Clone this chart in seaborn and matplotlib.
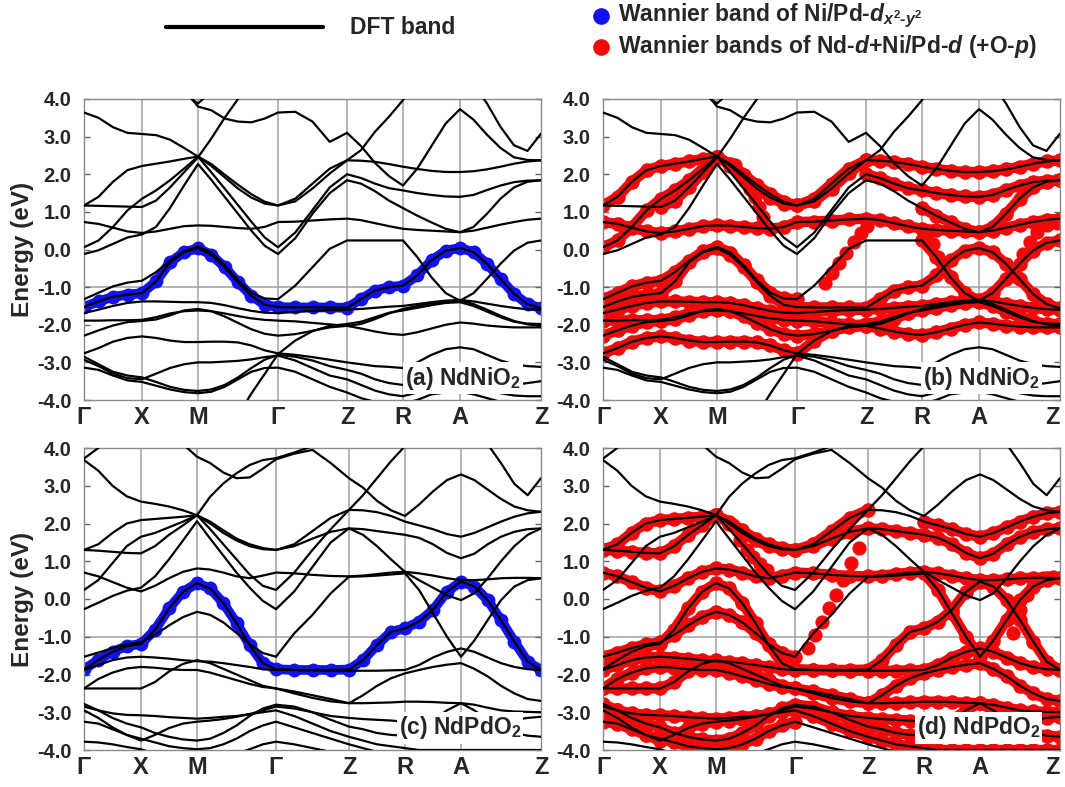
import numpy as np
import pandas as pd
import matplotlib
matplotlib.use("Agg")
import matplotlib.pyplot as plt
from matplotlib.lines import Line2D
import seaborn as sns

sns.set_theme(style="white")
plt.rcParams["font.family"] = ["Liberation Sans", "DejaVu Sans"]
plt.rcParams["font.weight"] = "bold"
plt.rcParams["mathtext.fontset"] = "custom"
plt.rcParams["mathtext.rm"] = "Liberation Sans:bold"
plt.rcParams["mathtext.bf"] = "Liberation Sans:bold"
plt.rcParams["mathtext.it"] = "Liberation Sans:italic:bold"

# ---------------------------------------------------------------- k-path
K_LABELS = ["Γ", "X", "M", "Γ", "Z", "R", "A", "Z"]
SEG_PTS = [4, 4, 6, 4, 4, 4, 6]          # sampled intervals per path segment
NI_TICKS = [0, 58, 114, 194, 263, 319, 376, 457]
PD_TICKS = [0, 57, 113, 192, 265, 321, 377, 457]
Y_TICKS = [-4.0, -3.0, -2.0, -1.0, 0.0, 1.0, 2.0, 3.0, 4.0]
OFF = 4.6   # energies outside the plotted window

# ---------------------------------------------------------------- NdNiO2 bands (eV)
# order per row: G-X(5) | X-M(4) | M-G(6) | G-Z(4) | Z-R(4) | R-A(4) | A-Z(6)
ni_b01 = [3.64, 3.50, 3.25, 3.10, 3.07, 3.04, 2.92, 2.70, 2.47,
          2.22, 1.92, 1.62, 1.38, 1.22, 1.17, 1.35, 1.75, 2.15, 2.37,
          2.36, 2.33, 2.27, 2.20, 2.14, 2.09, 2.06, 2.06,
          2.08, 2.13, 2.20, 2.28, 2.34, 2.37]
ni_b02 = [1.17, 1.40, 1.80, 2.11, 2.22, 2.28, 2.34, 2.41, 2.47,
          2.27, 1.99, 1.72, 1.47, 1.27, 1.17, 1.28, 1.62, 2.02, 2.37,
          2.64, 3.13, 3.53, 3.97, OFF, OFF, OFF, OFF,
          OFF, OFF, OFF, OFF, OFF, OFF]
ni_b03 = [1.17, 1.16, 1.15, 1.14, 1.13, 1.30, 1.65, 2.05, 2.45,
          2.95, 3.50, 4.00, 4.50, OFF, OFF, OFF, OFF, OFF, OFF,
          OFF, OFF, OFF, OFF, OFF, OFF, OFF, OFF,
          OFF, OFF, OFF, OFF, OFF, OFF]
ni_b04 = [0.73, 0.68, 0.58, 0.48, 0.44, 0.48, 0.55, 0.62, 0.64,
          0.63, 0.60, 0.57, 0.55, 0.60, 0.73, 0.74, 0.77, 0.80, 0.82,
          0.78, 0.70, 0.62, 0.55, 0.52, 0.50, 0.48, 0.46,
          0.50, 0.58, 0.66, 0.73, 0.79, 0.82]
ni_b05 = [0.06, 0.24, 0.60, 1.04, 1.35, 1.57, 1.84, 2.15, 2.47,
          2.05, 1.62, 1.18, 0.74, 0.32, 0.06, 0.45, 1.05, 1.65, 2.00,
          1.90, 1.75, 1.63, 1.57, 1.50, 1.45, 1.41, 1.40,
          1.45, 1.58, 1.70, 1.79, 1.83, 1.84]
ni_b06 = [-0.12, -0.02, 0.15, 0.32, 0.40, 0.60, 1.10, 1.70, 2.27,
          1.85, 1.40, 0.95, 0.50, 0.10, -0.12, 0.30, 0.95, 1.50, 1.84,
          1.75, 1.55, 1.30, 1.10, 0.90, 0.72, 0.55, 0.46,
          0.60, 0.95, 1.35, 1.65, 1.80, 1.84]
ni_b07 = [-1.32, -1.15, -0.98, -0.88, -0.83, -0.60, -0.30, -0.05, 0.07,
          -0.08, -0.42, -0.82, -1.15, -1.30, -1.32, -0.96, -0.47, 0.02, 0.24,
          0.24, 0.24, 0.24, 0.24, -0.20, -0.74, -1.16, -1.36,
          -1.16, -0.78, -0.38, -0.03, 0.18, 0.24]
ni_b08 = [-1.53, -1.38, -1.26, -1.20, -1.16, -0.85, -0.34, -0.07, 0.03,
          -0.14, -0.47, -0.87, -1.23, -1.47, -1.53, -1.54, -1.54, -1.54, -1.55,
          -1.32, -1.09, -1.00, -0.96, -0.69, -0.29, -0.03, 0.04,
          -0.07, -0.38, -0.78, -1.18, -1.45, -1.56]
ni_b09 = [-1.69, -1.60, -1.50, -1.42, -1.38, -1.38, -1.39, -1.40, -1.40,
          -1.42, -1.48, -1.56, -1.63, -1.68, -1.69, -1.66, -1.63, -1.61, -1.60,
          -1.58, -1.55, -1.52, -1.50, -1.45, -1.40, -1.36, -1.34,
          -1.38, -1.44, -1.50, -1.55, -1.59, -1.60]
ni_b10 = [-1.89, -1.89, -1.88, -1.88, -1.87, -1.80, -1.70, -1.64, -1.62,
          -1.64, -1.70, -1.77, -1.83, -1.87, -1.89, -1.91, -1.95, -1.99, -2.03,
          -1.98, -1.85, -1.70, -1.58, -1.50, -1.43, -1.38, -1.36,
          -1.45, -1.60, -1.76, -1.90, -1.99, -2.03]
ni_b11 = [-2.29, -2.15, -2.02, -1.93, -1.90, -1.86, -1.75, -1.62, -1.58,
          -1.64, -1.78, -1.95, -2.12, -2.24, -2.29, -2.25, -2.16, -2.07, -2.03,
          -2.10, -2.18, -2.24, -2.27, -2.20, -2.10, -2.00, -1.94,
          -1.97, -2.02, -2.05, -2.07, -2.07, -2.07]
ni_b12 = [-2.76, -2.62, -2.45, -2.35, -2.31, -2.35, -2.42, -2.46, -2.46,
          -2.45, -2.45, -2.47, -2.55, -2.68, -2.76, -2.80, -2.86, -2.93, -3.00,
          -3.05, -3.10, -3.12, -3.15, -3.00, -2.80, -2.65, -2.60,
          -2.65, -2.80, -2.95, -3.05, -3.10, -3.12]
ni_b13 = [-OFF, -OFF, -OFF, -OFF, -OFF, -OFF, -OFF, -OFF, -OFF,
          -OFF, -OFF, -4.40, -3.83, -3.31, -2.78, -2.42, -2.17, -2.03, -1.98,
          -1.92, -1.80, -1.68, -1.62, -1.55, -1.48, -1.42, -1.40,
          -1.50, -1.65, -1.80, -1.92, -1.97, -1.98]
ni_b14 = [-2.85, -3.05, -3.25, -3.35, -3.40, -3.52, -3.65, -3.73, -3.76,
          -3.72, -3.60, -3.40, -3.15, -2.93, -2.80, -2.85, -2.95, -3.10, -3.20,
          -3.30, -3.45, -3.55, -3.60, -3.55, -3.45, -3.35, -3.30,
          -3.35, -3.45, -3.55, -3.60, -3.55, -3.50]
ni_b15 = [-2.93, -3.10, -3.30, -3.42, -3.45, -3.30, -3.15, -3.05, -3.00,
          -3.00, -2.98, -2.96, -2.92, -2.86, -2.82, -2.95, -3.15, -3.35, -3.45,
          -3.60, -3.75, -3.85, -3.90, -3.80, -3.65, -3.55, -3.50,
          -3.60, -3.72, -3.82, -3.88, -3.90, -3.90]
ni_b16 = [-3.14, -3.20, -3.35, -3.48, -3.52, -3.62, -3.72, -3.79, -3.82,
          -3.78, -3.65, -3.45, -3.25, -3.15, -3.14, -3.25, -3.45, -3.65, -3.80,
          -3.95, -4.05, -4.10, -4.10, -4.00, -3.85, -3.80, -3.78,
          -3.85, -3.95, -4.05, -4.10, -4.10, -4.10]
ni_t1 = [OFF, OFF, OFF, OFF, OFF, OFF, OFF, 4.25, 3.80,
         3.70, 3.48, 3.40, 3.38, 3.48, 3.64, 3.66, 3.40, 2.86, 3.10,
         2.75, 2.30, 1.95, 1.70, 2.15, 2.75, 3.35, 3.73,
         3.45, 3.05, 2.70, 2.45, 2.38, 2.37]
ni_t2 = [OFF, OFF, OFF, OFF, OFF, OFF, OFF, 4.15, 3.88,
         4.20, OFF, OFF, OFF, OFF, OFF, OFF, OFF, OFF, OFF,
         OFF, OFF, OFF, OFF, OFF, OFF, OFF, OFF,
         4.40, 3.88, 3.26, 2.77, 2.62, 3.08]

# Wannier-fitted segments (1 = fitted) per band, per path segment
ni_wannier = {"ni_b01": "0011111", "ni_b02": "1111000", "ni_b03": "0100000",
              "ni_b04": "1111111", "ni_b05": "1100111", "ni_b06": "0000011",
              "ni_b07": "1110011", "ni_b08": "1111111", "ni_b09": "1111111",
              "ni_b10": "1111111", "ni_b11": "1111111", "ni_b12": "1110000",
              "ni_b13": "0001111"}
ni_x2y2 = "ni_b08"
# Wannier points that leave the DFT bands (k, E)
ni_free_k1 = [132, 137, 142, 147, 152, 156, 160]
ni_free_e1 = [2.25, 2.02, 1.82, 1.62, 1.40, 1.13, 0.86]
ni_free_k2 = [222, 229, 236, 243, 251, 258, 264]
ni_free_e2 = [-0.88, -0.62, -0.37, -0.10, 0.20, 0.45, 0.62]
ni_free_k3 = [414, 420, 427, 434, 444, 454]
ni_free_e3 = [-0.74, -0.12, 0.20, 0.46, 0.64, 0.70]
ni_free_k4 = [324, 330, 335, 340]
ni_free_e4 = [0.42, 0.15, -0.20, -0.56]

# ---------------------------------------------------------------- NdPdO2 bands (eV)
pd_b01 = [3.68, 3.40, 3.00, 2.72, 2.58, 2.52, 2.45, 2.35, 2.22,
          2.00, 1.75, 1.55, 1.40, 1.32, 1.30, 1.40, 1.60, 1.78, 1.87,
          1.85, 1.80, 1.75, 1.70, 1.62, 1.45, 1.22, 1.08,
          1.20, 1.45, 1.65, 1.78, 1.85, 1.87]
pd_b02 = [1.30, 1.45, 1.75, 2.00, 2.09, 2.12, 2.15, 2.18, 2.22,
          2.05, 1.82, 1.60, 1.45, 1.35, 1.30, 1.45, 1.80, 2.15, 2.36,
          2.75, 3.20, 3.65, 4.05, OFF, OFF, OFF, OFF,
          OFF, OFF, OFF, OFF, OFF, OFF]
pd_b03 = [1.30, 1.28, 1.25, 1.22, 1.21, 1.40, 1.70, 1.95, 2.22,
          2.71, 3.06, 3.33, 3.55, 3.68, 3.73, 3.88, 4.05, 4.30, OFF,
          OFF, OFF, OFF, OFF, OFF, OFF, OFF, OFF,
          OFF, OFF, OFF, OFF, OFF, OFF]
pd_b04 = [0.70, 0.60, 0.45, 0.30, 0.20, 0.35, 0.55, 0.72, 0.81,
          0.78, 0.70, 0.60, 0.55, 0.62, 0.70, 0.68, 0.64, 0.61, 0.60,
          0.62, 0.66, 0.70, 0.72, 0.68, 0.62, 0.55, 0.50,
          0.50, 0.52, 0.55, 0.56, 0.56, 0.55]
pd_b05 = [0.24, 0.50, 0.95, 1.40, 1.65, 1.75, 1.90, 2.05, 2.22,
          1.85, 1.45, 1.05, 0.65, 0.35, 0.24, 0.70, 1.30, 1.85, 2.36,
          2.35, 2.30, 2.20, 2.05, 1.95, 1.85, 1.72, 1.65,
          1.75, 1.90, 2.05, 2.18, 2.27, 2.31]
pd_b06 = [-0.27, -0.10, 0.08, 0.22, 0.30, 0.60, 1.05, 1.55, 2.06,
          1.60, 1.15, 0.70, 0.30, -0.05, -0.27, 0.20, 0.85, 1.50, 1.87,
          1.70, 1.40, 1.05, 0.72, 0.50, 0.30, 0.10, -0.03,
          0.15, 0.55, 1.00, 1.40, 1.70, 1.87]
pd_b07 = [-1.53, -1.42, -1.30, -1.20, -1.15, -0.95, -0.70, -0.48, -0.34,
          -0.42, -0.62, -0.90, -1.20, -1.43, -1.53, -0.91, -0.42, 0.15, 0.59,
          0.60, 0.62, 0.65, 0.68, 0.24, -0.38, -1.00, -1.53,
          -1.10, -0.56, -0.03, 0.33, 0.50, 0.55]
pd_b08 = [-1.86, -1.62, -1.40, -1.25, -1.19, -0.82, -0.25, 0.19, 0.42,
          0.28, -0.11, -0.64, -1.22, -1.70, -1.86, -1.88, -1.88, -1.88, -1.87,
          -1.62, -1.22, -0.87, -0.78, -0.60, -0.29, 0.19, 0.46,
          0.33, -0.03, -0.56, -1.13, -1.66, -1.88]
pd_b09 = [-1.88, -1.75, -1.62, -1.55, -1.53, -1.55, -1.58, -1.62, -1.65,
          -1.66, -1.70, -1.75, -1.80, -1.86, -1.88, -1.88, -1.89, -1.90, -1.90,
          -1.90, -1.90, -1.89, -1.88, -1.75, -1.55, -1.40, -1.31,
          -1.40, -1.55, -1.70, -1.80, -1.86, -1.88]
pd_b10 = [-2.37, -2.12, -1.95, -1.84, -1.80, -1.82, -1.86, -1.88, -1.88,
          -1.95, -2.05, -2.15, -2.25, -2.33, -2.37, -2.45, -2.55, -2.65, -2.76,
          -2.55, -2.30, -2.10, -1.97, -1.88, -1.80, -1.74, -1.70,
          -1.85, -2.05, -2.30, -2.50, -2.65, -2.70]
pd_b11 = [-2.37, -2.37, -2.37, -2.37, -2.37, -2.20, -1.92, -1.72, -1.62,
          -1.70, -1.85, -2.00, -2.15, -2.30, -2.37, -2.50, -2.62, -2.71, -2.76,
          -2.76, -2.75, -2.74, -2.72, -2.72, -2.73, -2.75, -2.76,
          -2.80, -2.88, -2.95, -2.98, -2.99, -3.00]
pd_b12 = [-2.78, -2.95, -3.15, -3.30, -3.40, -3.55, -3.65, -3.72, -3.75,
          -3.70, -3.55, -3.35, -3.10, -2.90, -2.80, -2.85, -3.00, -3.20, -3.38,
          -3.45, -3.55, -3.60, -3.62, -3.50, -3.20, -2.95, -2.76,
          -2.95, -3.20, -3.40, -3.55, -3.62, -3.65]
pd_b13 = [-2.85, -2.95, -3.03, -3.07, -3.08, -3.10, -3.13, -3.15, -3.17,
          -3.15, -3.12, -3.10, -3.05, -2.95, -2.85, -2.90, -3.00, -3.10, -3.15,
          -3.18, -3.20, -3.22, -3.25, -3.30, -3.40, -3.50, -3.55,
          -3.50, -3.40, -3.30, -3.20, -3.15, -3.12]
pd_b14 = [-2.95, -3.15, -3.40, -3.60, -3.75, -3.60, -3.42, -3.30, -3.25,
          -3.22, -3.18, -3.12, -3.05, -3.00, -2.95, -3.10, -3.30, -3.50, -3.65,
          -3.75, -3.85, -3.90, -3.95, -4.00, -4.00, -4.00, -4.00,
          -4.00, -4.00, -4.00, -4.00, -4.00, -4.00]
pd_b15 = [-3.25, -3.30, -3.45, -3.60, -3.70, -3.80, -3.90, -3.95, -3.98,
          -3.95, -3.85, -3.70, -3.50, -3.35, -3.25, -3.40, -3.55, -3.70, -3.85,
          -3.95, -4.05, -4.10, -4.10, -4.10, -4.10, -4.10, -4.10,
          -4.10, -4.10, -4.10, -4.10, -4.10, -4.10]
pd_b16 = [-3.78, -3.80, -3.85, -3.92, -3.98, -4.10, -4.20, -4.30, -4.30,
          -4.30, -4.20, -4.10, -3.98, -3.85, -3.78, -3.85, -3.95, -4.05, -4.10,
          -4.10, -4.10, -4.10, -4.10, -4.10, -4.10, -4.10, -4.10,
          -4.10, -4.10, -4.10, -4.10, -4.10, -4.10]
pd_t1 = [OFF, OFF, OFF, OFF, OFF, OFF, OFF, 4.10, 3.77,
         3.60, 3.35, 3.20, 3.22, 3.45, 3.70, 3.85, 3.95, 3.60, 3.20,
         2.95, 2.60, 2.35, 2.20, 2.50, 2.85, 3.15, 3.30,
         3.15, 2.90, 2.65, 2.45, 2.35, 2.31]
pd_t2 = [3.72, 4.00, 4.30, OFF, OFF, OFF, OFF, OFF, OFF,
         OFF, OFF, OFF, OFF, OFF, OFF, OFF, OFF, OFF, OFF,
         OFF, OFF, OFF, OFF, OFF, OFF, OFF, OFF,
         OFF, 4.10, 3.60, 3.05, 2.75, 3.20]

pd_wannier = {"pd_b01": "0011111", "pd_b02": "1111000", "pd_b03": "1100000",
              "pd_b04": "1111111", "pd_b05": "0000011", "pd_b07": "1110011",
              "pd_b08": "1111111", "pd_b09": "1111111", "pd_b10": "1111111",
              "pd_b11": "1111111", "pd_b12": "1111111", "pd_b13": "1111111",
              "pd_b14": "1111111", "pd_b15": "1110000"}
pd_x2y2 = "pd_b08"
pd_free_k1 = [130, 137, 144, 150, 157, 164]
pd_free_e1 = [1.95, 1.56, 1.30, 1.11, 0.92, 0.77]
pd_free_k2 = [205, 212, 219, 226, 233, 240, 248, 256]
pd_free_e2 = [-1.30, -0.95, -0.60, -0.25, 0.10, 0.50, 0.95, 1.35]
pd_free_k3 = [410, 417, 424, 431, 440, 450]
pd_free_e3 = [-0.90, -0.30, 0.10, 0.40, 0.55, 0.58]

NI_BANDS = {n: v for n, v in globals().items() if n.startswith(("ni_b", "ni_t"))}
PD_BANDS = {n: v for n, v in globals().items() if n.startswith(("pd_b", "pd_t"))}
NI_FREE = [(ni_free_k1, ni_free_e1), (ni_free_k2, ni_free_e2),
           (ni_free_k3, ni_free_e3), (ni_free_k4, ni_free_e4)]
PD_FREE = [(pd_free_k1, pd_free_e1), (pd_free_k2, pd_free_e2), (pd_free_k3, pd_free_e3)]

BLUE = "#1212f0"
RED = "#f20a0a"
GRID = "#a0a0a0"


def path_nodes(ticks):
    k = [float(ticks[0])]
    for i, n in enumerate(SEG_PTS):
        k += list(np.linspace(ticks[i], ticks[i + 1], n + 1)[1:])
    return np.array(k)


SEG_START = np.concatenate([[0], np.cumsum(SEG_PTS)])


def dft_frame(bands, kn):
    rows = [(name, k, e) for name, vals in bands.items() for k, e in zip(kn, vals)]
    return pd.DataFrame(rows, columns=["band", "k", "E"])


def wannier_frame(bands, kn, masks):
    rows = []
    for name, mask in masks.items():
        vals = bands[name]
        run, inside = 0, False
        for s, flag in enumerate(mask):
            if flag == "1":
                if not inside:
                    run += 1
                    inside = True
                lo, hi = SEG_START[s], SEG_START[s + 1]
                for i in range(lo, hi + 1):
                    rows.append((f"{name}-{run}", kn[i], vals[i]))
            else:
                inside = False
    df = pd.DataFrame(rows, columns=["run", "k", "E"])
    return df.drop_duplicates()


def style_axes(ax, ticks, show_ylabel, right_panel):
    ax.set_xlim(ticks[0], ticks[-1])
    ax.set_ylim(-4.0, 4.0)
    for t in ticks[1:-1]:
        ax.axvline(t, color=GRID, lw=1.1, zorder=0.5)
    ax.axhline(-1.0, color=GRID, lw=1.1, zorder=0.5)
    ax.set_xticks(ticks)
    ax.set_xticklabels(K_LABELS, fontsize=17, fontweight="bold")
    if right_panel:
        ax.get_xticklabels()[-1].set_horizontalalignment("right")
    ax.set_yticks(Y_TICKS)
    ax.set_yticklabels([f"{v:.1f}" for v in Y_TICKS], fontsize=14.5, fontweight="bold")
    ax.tick_params(axis="x", length=0, pad=4)
    ax.tick_params(axis="y", direction="in", length=4, width=1, color="#666666",
                   left=True, right=True, pad=9)
    for sp in ax.spines.values():
        sp.set_color("#8a8a8a")
        sp.set_linewidth(1.0)
    ax.set_xlabel("")
    if show_ylabel:
        ax.set_ylabel("Energy (eV)", fontsize=17.5, fontweight="bold", labelpad=2)
    else:
        ax.set_ylabel("")


def draw_panel(ax, bands, ticks, label, wannier=None, free=None, x2y2=None,
               right_panel=False):
    kn = path_nodes(ticks)
    if wannier is not None:
        wf = wannier_frame(bands, kn, wannier)
        sns.lineplot(data=wf, x="k", y="E", units="run", estimator=None, sort=False,
                     color=RED, lw=7.5, marker="o", markersize=10.5,
                     markeredgewidth=0, solid_capstyle="round", legend=False, ax=ax)
    if free is not None:
        pts = pd.DataFrame([(k, e) for ks, es in free for k, e in zip(ks, es)],
                           columns=["k", "E"])
        sns.scatterplot(data=pts, x="k", y="E", color=RED, s=105, linewidth=0,
                        legend=False, ax=ax, zorder=2)
    if x2y2 is not None:
        bf = wannier_frame(bands, kn, {x2y2: "1111111"})
        sns.lineplot(data=bf, x="k", y="E", units="run", estimator=None, sort=False,
                     color=BLUE, lw=7.0, marker="o", markersize=10,
                     markeredgewidth=0, solid_capstyle="round", legend=False, ax=ax)
    df = dft_frame(bands, kn)
    sns.lineplot(data=df, x="k", y="E", units="band", estimator=None, sort=False,
                 color="black", lw=1.6, legend=False, ax=ax, zorder=3)
    style_axes(ax, ticks, not right_panel, right_panel)
    ax.text(0.957, 0.073, label, transform=ax.transAxes, ha="right", va="center",
            fontsize=16.5, fontweight="bold", zorder=10,
            bbox=dict(facecolor="white", edgecolor="none", pad=1.5))


fig = plt.figure(figsize=(10.65, 7.87), dpi=100)
W, H = 1065.0, 787.0
ax_a = fig.add_axes([84 / W, 1 - 400 / H, 457 / W, 301 / H])
ax_b = fig.add_axes([603 / W, 1 - 400 / H, 457 / W, 301 / H])
ax_c = fig.add_axes([84 / W, 1 - 750 / H, 457 / W, 302 / H])
ax_d = fig.add_axes([603 / W, 1 - 750 / H, 457 / W, 302 / H])

draw_panel(ax_a, NI_BANDS, NI_TICKS, "(a) NdNiO$_2$", x2y2=ni_x2y2)
draw_panel(ax_b, NI_BANDS, NI_TICKS, "(b) NdNiO$_2$", wannier=ni_wannier,
           free=NI_FREE, right_panel=True)
draw_panel(ax_c, PD_BANDS, PD_TICKS, "(c) NdPdO$_2$", x2y2=pd_x2y2)
draw_panel(ax_d, PD_BANDS, PD_TICKS, "(d) NdPdO$_2$", wannier=pd_wannier,
           free=PD_FREE, right_panel=True)

# legend at the top
fig.add_artist(Line2D([166 / W, 323 / W], [1 - 27 / H] * 2, color="black", lw=3))
fig.text(350 / W, 1 - 27 / H, "DFT band", fontsize=16.5, fontweight="bold",
         ha="left", va="center")
fig.add_artist(Line2D([601 / W], [1 - 16 / H], marker="o", markersize=12,
                      color=BLUE, markeredgewidth=0, lw=0))
fig.text(618 / W, 1 - 16 / H, r"Wannier band of Ni/Pd-$d_{x^2\text{-}y^2}$",
         fontsize=16.5, fontweight="bold", ha="left", va="center")
fig.add_artist(Line2D([601 / W], [1 - 47 / H], marker="o", markersize=12,
                      color=RED, markeredgewidth=0, lw=0))
fig.text(618 / W, 1 - 47 / H, r"Wannier bands of Nd-$d$+Ni/Pd-$d$ (+O-$p$)",
         fontsize=16.5, fontweight="bold", ha="left", va="center")

fig.savefig("out.png", dpi=100)
